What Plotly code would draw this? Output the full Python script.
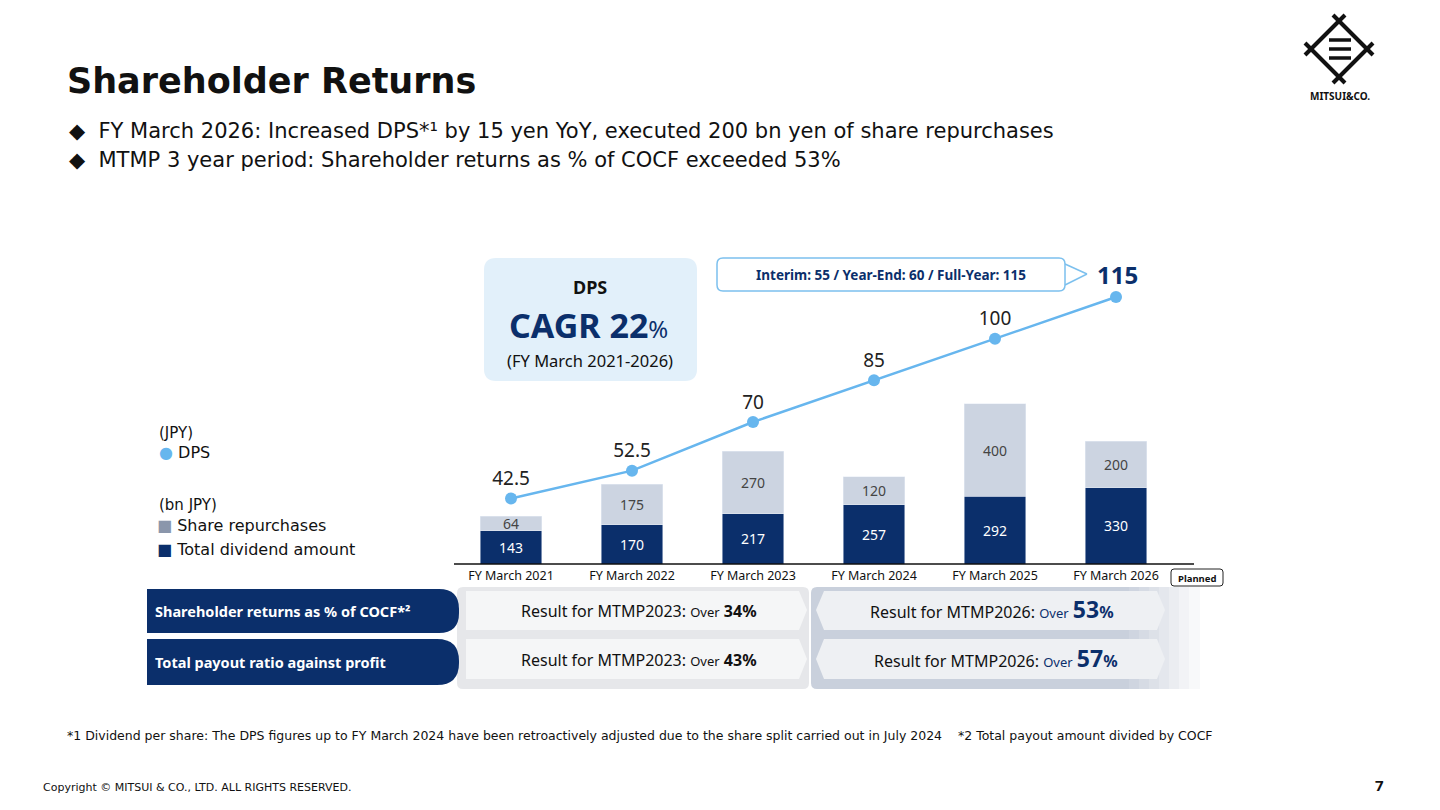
import plotly.graph_objects as go

categories = ["FY March 2021", "FY March 2022", "FY March 2023", "FY March 2024", "FY March 2025", "FY March 2026"]
dividends = [143, 170, 217, 257, 292, 330]
repurchases = [64, 175, 270, 120, 400, 200]
dps = [42.5, 52.5, 70, 85, 100, 115]
dps_labels = ["42.5", "52.5", "70", "85", "100", "115"]

NAVY = "#0b2f6b"
REP = "#ccd4e1"
LINE = "#67b6ee"
FONT = "Noto Sans"
WIDE = "DejaVu Sans"
W, H = 1440, 810
OX, OY = 9, 9

def px(x): return (x - OX) / W
def py(y): return 1 - (y - OY) / H

fig = go.Figure()
fig.add_bar(x=categories, y=dividends, marker_color=NAVY, width=0.51,
            text=[str(v) for v in dividends], textposition="inside", insidetextanchor="middle",
            textangle=0, constraintext="none",
            textfont=dict(color="white", size=14, family=FONT), showlegend=False)
fig.add_bar(x=categories, y=repurchases, marker_color=REP, width=0.51,
            text=[str(v) for v in repurchases], textposition="inside", insidetextanchor="middle",
            textangle=0, constraintext="none",
            textfont=dict(color="#444", size=14, family=FONT), showlegend=False)
fig.add_scatter(x=categories, y=dps, yaxis="y2", mode="lines+markers+text",
                line=dict(color=LINE, width=2.5), marker=dict(size=12, color=LINE),
                text=[t if i < 5 else "" for i, t in enumerate(dps_labels)], textposition="top center",
                textfont=dict(size=19, color="#222", family=FONT), showlegend=False, cliponaxis=False)

shapes = []
annots = []

def rect(x0, y0, x1, y1, fill, line=None, lw=0, r=None):
    if r:
        path = (f"M{px(x0+r)},{py(y0)} L{px(x1-r)},{py(y0)} Q{px(x1)},{py(y0)} {px(x1)},{py(y0+r)} "
                f"L{px(x1)},{py(y1-r)} Q{px(x1)},{py(y1)} {px(x1-r)},{py(y1)} L{px(x0+r)},{py(y1)} "
                f"Q{px(x0)},{py(y1)} {px(x0)},{py(y1-r)} L{px(x0)},{py(y0+r)} Q{px(x0)},{py(y0)} {px(x0+r)},{py(y0)} Z")
        shapes.append(dict(type="path", xref="paper", yref="paper", path=path, fillcolor=fill,
                           line=dict(color=line or fill, width=lw), layer="below"))
    else:
        shapes.append(dict(type="rect", xref="paper", yref="paper", x0=px(x0), x1=px(x1), y0=py(y1), y1=py(y0),
                           fillcolor=fill, line=dict(color=line or fill, width=lw), layer="below"))

def poly(pts, fill, line=None, lw=0, layer="below"):
    path = "M" + " L".join(f"{px(x)},{py(y)}" for x, y in pts) + " Z"
    shapes.append(dict(type="path", xref="paper", yref="paper", path=path, fillcolor=fill,
                       line=dict(color=line or fill, width=lw), layer=layer))

def seg(x0, y0, x1, y1, color, w):
    shapes.append(dict(type="line", xref="paper", yref="paper", x0=px(x0), y0=py(y0), x1=px(x1), y1=py(y1),
                       line=dict(color=color, width=w)))

def txt(x, y, s, size=14, color="#111", anchor="left", bold=False, font=FONT):
    if bold:
        s = f"<b>{s}</b>"
    annots.append(dict(x=px(x), y=py(y), xref="paper", yref="paper", text=s, showarrow=False,
                       xanchor=anchor, yanchor="middle", font=dict(size=size, color=color, family=font)))

# Table backgrounds
rect(458, 588, 810, 690, "#e6e7ea", r=6)
rect(812, 588, 1195, 690, "#c9d0dc", r=6)
fade = ["#cfd5e0", "#d6dbe4", "#dde1e8", "#e4e7ed", "#ebedf1", "#f2f3f6", "#f8f9fa"]
for i, c in enumerate(fade):
    rect(1130 + i * 10, 588, 1140 + i * 10 + 1, 690, c)
poly([(467, 592), (800, 592), (808, 611), (800, 631), (467, 631)], "#f5f6f7")
poly([(467, 640), (800, 640), (808, 660), (800, 680), (467, 680)], "#f5f6f7")
poly([(825, 592), (1158, 592), (1166, 611), (1158, 631), (825, 631), (817, 611)], "#eef0f3")
poly([(825, 640), (1158, 640), (1166, 660), (1158, 680), (825, 680), (817, 660)], "#eef0f3")
rect(148, 590, 460, 634, NAVY, r=20)
rect(148, 590, 300, 634, NAVY)
rect(148, 640, 460, 686, NAVY, r=22)
rect(148, 640, 300, 686, NAVY)
txt(154, 612, "Shareholder returns as % of COCF*²", 14.5, "white", bold=True)
txt(154, 663, "Total payout ratio against profit", 14.5, "white", bold=True)
txt(640, 612, "Result for MTMP2023: <span style='font-size:13px'>Over</span> <b>34%</b>", 16, "#111", "center")
txt(640, 661, "Result for MTMP2023: <span style='font-size:13px'>Over</span> <b>43%</b>", 16, "#111", "center")
txt(993, 610, "Result for MTMP2026: <span style='font-size:13px;color:#0b2f6b'>Over</span> <b><span style='font-size:23px;color:#0b2f6b'>53</span><span style='color:#0b2f6b'>%</span></b>", 16, "#111", "center")
txt(997, 659, "Result for MTMP2026: <span style='font-size:13px;color:#0b2f6b'>Over</span> <b><span style='font-size:23px;color:#0b2f6b'>57</span><span style='color:#0b2f6b'>%</span></b>", 16, "#111", "center")

# Planned tag
rect(1172, 570, 1224, 587, "white", "#222", 1, r=3)
txt(1198, 579, "Planned", 9.5, "#111", "center", bold=True)

# baseline
seg(455, 565, 1195, 565, "#111", 1.5)

# CAGR box
rect(485, 259, 698, 382, "#e2f0fa", r=12)
txt(591, 288, "DPS", 18, "#111", "center", bold=True)
txt(589, 326, "<b>CAGR 22</b><span style='font-size:24px'>%</span>", 34, NAVY, "center")
txt(591, 361, "(FY March 2021-2026)", 16.5, "#111", "center")

# Callout
rect(718, 259, 1066, 292, "white", "#7cc0ee", 1.5, r=6)
txt(892, 276, "Interim: 55 / Year-End: 60 / Full-Year: 115", 13.5, NAVY, "center", bold=True)
seg(1066, 265, 1088, 275, "#7cc0ee", 1.5)
seg(1088, 275, 1066, 286, "#7cc0ee", 1.5)
txt(1118, 275, "115", 24, NAVY, "center", bold=True)

# Legend text
txt(158, 434, "(JPY)", 15, font=WIDE)
txt(158, 453, "<span style='color:#67b6ee'>●</span> DPS", 16, font=WIDE)
txt(158, 506, "(bn JPY)", 15, font=WIDE)
txt(156, 526, "<span style='color:#8a96ab'>■</span> Share repurchases", 16, font=WIDE)
txt(156, 550, "<span style='color:#0b2f6b'>■</span> Total dividend amount", 16, font=WIDE)

# Title & bullets
txt(66, 82, "Shareholder Returns", 35, "#111", bold=True, font=WIDE)
txt(68, 132, "◆  FY March 2026: Increased DPS*¹ by 15 yen YoY, executed 200 bn yen of share repurchases", 21, font=WIDE)
txt(68, 161, "◆  MTMP 3 year period: Shareholder returns as % of COCF exceeded 53%", 21, font=WIDE)

# Logo
for (a, b, c, d) in [(1334, 16, 1374, 56), (1374, 44, 1334, 84), (1346, 84, 1306, 44), (1306, 56, 1346, 16)]:
    seg(a, b, c, d, "#111", 4)
for yy in (41, 50, 59):
    seg(1330, yy, 1352, yy, "#111", 3.5)
txt(1341, 97, "MITSUI&CO.", 10, "#111", "center", bold=True)

# Footer
txt(66, 736, "*1 Dividend per share: The DPS figures up to FY March 2024 have been retroactively adjusted due to the share split carried out in July 2024    *2 Total payout amount divided by COCF", 12.5, font=WIDE)
txt(42, 788, "Copyright © MITSUI & CO., LTD. ALL RIGHTS RESERVED.", 11, font=WIDE)
txt(1380, 786, "7", 15, "#111", "center", bold=True)

fig.update_layout(
    width=W, height=H, margin=dict(l=0, r=0, t=0, b=0),
    paper_bgcolor="white", plot_bgcolor="rgba(0,0,0,0)",
    barmode="stack", bargap=0.49,
    font=dict(family=FONT, color="#111"),
    xaxis=dict(domain=[px(451.5), px(1177.5)], showgrid=False, showline=False, ticks="",
               tickfont=dict(size=12.5, color="#111"), ticklabelstandoff=2, fixedrange=True),
    yaxis=dict(domain=[py(565), py(258)], range=[0, 1327], visible=False),
    yaxis2=dict(domain=[py(565), py(258)], range=[18.9, 129.4], overlaying="y", visible=False),
    shapes=shapes, annotations=annots,
)
fig.write_html("out.html")
